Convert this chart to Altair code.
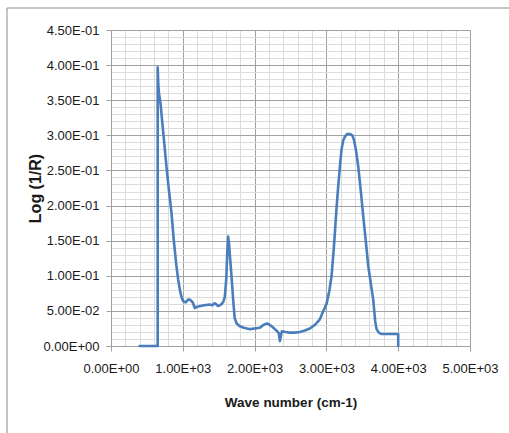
import altair as alt
import pandas as pd

# Spectrum values
wave = [400, 650, 650, 660, 668, 680, 690, 720, 750, 772, 800, 842, 875, 911, 935, 958,
        980, 1004, 1040, 1074, 1100, 1139, 1167, 1200, 1250, 1300, 1376, 1410, 1445,
        1470, 1487, 1515, 1543, 1565, 1585, 1605, 1620, 1631, 1642, 1655, 1678, 1700,
        1722, 1750, 1794, 1850, 1934, 2000, 2073, 2110, 2143, 2180, 2212, 2250, 2282,
        2315, 2338, 2352, 2365, 2380, 2430, 2491, 2560, 2630, 2700, 2770, 2840, 2909,
        2950, 3002, 3040, 3072, 3100, 3118, 3140, 3165, 3190, 3211, 3235, 3258, 3290,
        3328, 3360, 3383, 3410, 3443, 3480, 3513, 3550, 3583, 3620, 3652, 3680, 3699,
        3730, 3769, 3850, 4000, 4000]
logr = [0.0, 0.0, 0.397, 0.370, 0.360, 0.352, 0.345, 0.312, 0.280, 0.256, 0.228, 0.190,
        0.150, 0.114, 0.095, 0.081, 0.070, 0.064, 0.062, 0.066, 0.066, 0.062, 0.054,
        0.056, 0.057, 0.058, 0.059, 0.058, 0.061, 0.059, 0.057, 0.058, 0.060, 0.063,
        0.070, 0.095, 0.135, 0.156, 0.148, 0.130, 0.100, 0.068, 0.040, 0.032, 0.028,
        0.026, 0.024, 0.025, 0.026, 0.029, 0.031, 0.032, 0.030, 0.027, 0.024, 0.021,
        0.018, 0.007, 0.014, 0.021, 0.020, 0.019, 0.019, 0.020, 0.022, 0.025, 0.030,
        0.038, 0.048, 0.060, 0.078, 0.100, 0.135, 0.161, 0.195, 0.228, 0.258, 0.280,
        0.293, 0.298, 0.302, 0.302, 0.300, 0.294, 0.280, 0.256, 0.220, 0.185, 0.148,
        0.114, 0.088, 0.066, 0.035, 0.024, 0.019, 0.017, 0.017, 0.017, 0.0]

x_ticks = [i * 200 for i in range(26)]             # 0 .. 5000
y_ticks = [round(i * 0.01, 2) for i in range(46)]  # 0 .. 0.45

df = pd.DataFrame({"wave": wave, "logr": logr, "idx": list(range(len(wave)))})

FONT = "Liberation Sans, Arial, sans-serif"
LINE = "#4a7ebb"
TEXT = "#1a1a1a"


def sci_expr(test):
    parts = "split(format(datum.value, '.2e'), 'e')"
    return (f"{test} ? ({parts}[0] + 'E' + "
            f"(toNumber({parts}[1]) < 0 ? '-' : '+') + "
            f"(abs(toNumber({parts}[1])) < 10 ? '0' : '') + "
            f"abs(toNumber({parts}[1]))) : ''")


x_major = "round(datum.value) % 1000 === 0"
y_major = "round(datum.value * 100) % 5 === 0"

x_axis = alt.Axis(
    values=x_ticks, title="Wave number (cm-1)",
    labelExpr=sci_expr(x_major),
    grid=True,
    gridColor={"condition": {"test": x_major, "value": "#a0a0a0"}, "value": "#dcdcdc"},
    tickColor={"condition": {"test": x_major, "value": "#a0a0a0"}, "value": "transparent"},
    tickSize=5, labelPadding=11, domainColor="#a0a0a0",
    labelFont=FONT, labelFontSize=13, labelColor=TEXT,
    titleFont=FONT, titleFontSize=13.5,
    titleFontWeight="bold", titleColor=TEXT,
    titleX=179.5, titleY=56, titleBaseline="middle", titleAlign="center",
    labelFlush=False, labelOverlap=False,
)
y_axis = alt.Axis(
    values=y_ticks, title="Log (1/R)",
    labelExpr=sci_expr(y_major),
    grid=True,
    gridColor={"condition": {"test": y_major, "value": "#a0a0a0"}, "value": "#dcdcdc"},
    tickColor={"condition": {"test": y_major, "value": "#a0a0a0"}, "value": "transparent"},
    tickSize=5, labelPadding=7, domainColor="#a0a0a0",
    labelFont=FONT, labelFontSize=13, labelColor=TEXT, labelBaseline="middle",
    titleFont=FONT, titleFontSize=16,
    titleFontWeight="bold", titleColor=TEXT,
    titleX=-76, titleY=158, titleAngle=-90, titleBaseline="middle", titleAlign="center",
    labelFlush=False, labelOverlap=False,
)

line = alt.Chart(df).mark_line(color=LINE, strokeWidth=2.6, clip=False,
                               strokeJoin="round", strokeCap="round").encode(
    x=alt.X("wave:Q", scale=alt.Scale(domain=[0, 5000], nice=False), axis=x_axis),
    y=alt.Y("logr:Q", scale=alt.Scale(domain=[0, 0.45], nice=False), axis=y_axis),
    order="idx:Q",
)

frame_top = alt.Chart().mark_rule(color="#8a8a8a", strokeWidth=1).encode(
    x=alt.value(-104), x2=alt.value(420), y=alt.value(-22))
frame_left = alt.Chart().mark_rule(color="#8a8a8a", strokeWidth=1).encode(
    x=alt.value(-104), y=alt.value(-22), y2=alt.value(420))

chart = alt.layer(line, frame_top, frame_left).properties(
    width=359, height=316,
    autosize=alt.AutoSizeParams(type="none"),
    padding={"left": 111, "top": 30, "right": 39, "bottom": 87},
    background="white",
).configure_view(stroke=None)

chart.save("out.html", embed_options={"renderer": "svg", "actions": False})
